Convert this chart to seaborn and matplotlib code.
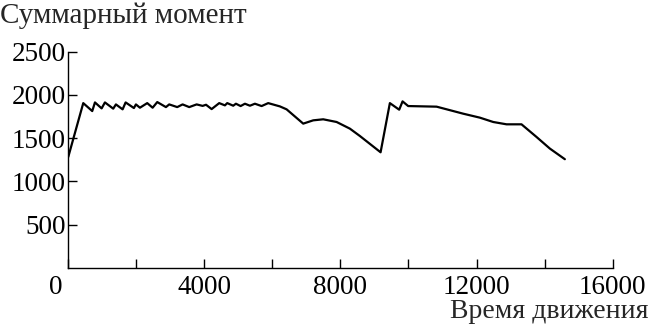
import numpy as np
import pandas as pd
import matplotlib
matplotlib.use("Agg")
import matplotlib.pyplot as plt
import matplotlib.transforms as mtransforms
import seaborn as sns

# ========== DATA ==========
time_values = [0, 441, 705, 785, 981, 1078, 1322, 1401, 1598, 1686, 1930, 1989,
               2107, 2321, 2480, 2616, 2871, 2968, 3203, 3361, 3556, 3773, 3950,
               4050, 4214, 4437, 4605, 4673, 4849, 4928, 5066, 5193, 5340, 5486,
               5683, 5877, 6221, 6418, 6906, 7200, 7494, 7887, 8278, 8572, 9180,
               9453, 9727, 9826, 9991, 10826, 11607, 12098, 12490, 12882, 13322,
               13763, 14155, 14596]
moment_values = [1282, 1904, 1812, 1912, 1843, 1912, 1840, 1889, 1832, 1912, 1847,
                 1889, 1851, 1904, 1851, 1916, 1858, 1889, 1858, 1889, 1858, 1889,
                 1872, 1885, 1835, 1904, 1878, 1904, 1874, 1897, 1870, 1897, 1874,
                 1897, 1870, 1904, 1866, 1832, 1667, 1705, 1717, 1686, 1609, 1524,
                 1336, 1904, 1828, 1924, 1870, 1863, 1782, 1736, 1686, 1659, 1659,
                 1513, 1379, 1256]

x_ticks = [0, 2000, 4000, 6000, 8000, 10000, 12000, 14000, 16000]
x_tick_labels = ["0", "", "4000", "", "8000", "", "12000", "", "16000"]
y_ticks = [500, 1000, 1500, 2000, 2500]
y_tick_labels = ["500", "1000", "1500", "2000", "2500"]

y_title = "Суммарный момент"
x_title = "Время движения"

# ========== PLOT ==========
sns.set_style("ticks")
plt.rcParams["font.family"] = ["Liberation Serif", "DejaVu Serif"]

df = pd.DataFrame({"time": time_values, "moment": moment_values})

fig = plt.figure(figsize=(6.5, 3.24), dpi=100)
ax = fig.add_axes([0.105, 0.173, 0.8375, 0.668])

sns.lineplot(data=df, x="time", y="moment", ax=ax, color="black", lw=1.6,
             estimator=None, sort=False)

ax.set_xlim(0, 16000)
ax.set_ylim(0, 2500)
ax.set_xticks(x_ticks)
ax.set_xticklabels(x_tick_labels)
ax.set_yticks(y_ticks)
ax.set_yticklabels(y_tick_labels)
ax.set_xlabel("")
ax.set_ylabel("")

ax.tick_params(axis="both", direction="in", length=6.5, width=1.0,
               labelsize=19.5, colors="black")
ax.tick_params(axis="x", pad=5)
ax.tick_params(axis="y", pad=2)
for side in ["top", "right"]:
    ax.spines[side].set_visible(False)
for side in ["left", "bottom"]:
    ax.spines[side].set_linewidth(1.0)
    ax.spines[side].set_color("black")

# the "0" label sits left of the origin in the original
labels = ax.get_xticklabels()
labels[0].set_transform(labels[0].get_transform() +
                        mtransforms.ScaledTranslation(-12 / 100, 0, fig.dpi_scale_trans))

fig.text(0.0, 0.952, y_title, ha="left", va="center", fontsize=21)
fig.text(0.998, 0.038, x_title, ha="right", va="center", fontsize=20)

fig.savefig("out.png", dpi=100)
plt.close(fig)
